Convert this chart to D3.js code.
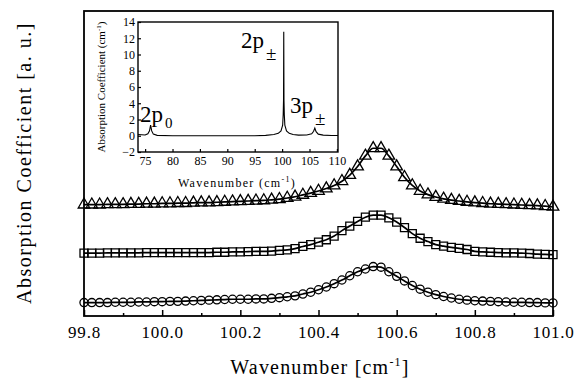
<!DOCTYPE html>
<html>
<head>
<meta charset="utf-8">
<script src="https://cdn.jsdelivr.net/npm/d3@7"></script>
<style>
  body { margin: 0; background: #fff; }
  svg { display: block; font-family: "Liberation Serif", "Times New Roman", serif; }
</style>
</head>
<body>
<svg id="chart" width="576" height="380"></svg>
<script>
// wavenumber grid of the measured points (cm^-1)
const wavenumbers = [
  99.80, 99.82, 99.84, 99.86, 99.88, 99.90, 99.92, 99.94, 99.96, 99.98,
  100.00, 100.02, 100.04, 100.06, 100.08, 100.10, 100.12, 100.14, 100.16, 100.18,
  100.20, 100.22, 100.24, 100.26, 100.28, 100.30, 100.32, 100.34, 100.36, 100.38,
  100.40, 100.42, 100.44, 100.46, 100.48, 100.50, 100.52, 100.54, 100.56, 100.58,
  100.60, 100.62, 100.64, 100.66, 100.68, 100.70, 100.72, 100.74, 100.76, 100.78,
  100.80, 100.82, 100.84, 100.86, 100.88, 100.90, 100.92, 100.94, 100.96, 100.98,
  101.00
];

// offset spectra, arbitrary units
const triangleValues = [
  3.65, 3.65, 3.65, 3.66, 3.66, 3.66, 3.67, 3.67, 3.68, 3.68,
  3.69, 3.69, 3.70, 3.70, 3.71, 3.72, 3.72, 3.73, 3.74, 3.75,
  3.76, 3.77, 3.78, 3.79, 3.81, 3.83, 3.87, 3.91, 3.97, 4.03,
  4.10, 4.18, 4.28, 4.42, 4.62, 4.90, 5.25, 5.50, 5.50, 5.25,
  4.90, 4.55, 4.28, 4.10, 3.98, 3.90, 3.84, 3.80, 3.77, 3.74,
  3.72, 3.70, 3.68, 3.67, 3.66, 3.65, 3.64, 3.63, 3.62, 3.60,
  3.58
];
const squareValues = [
  2.06, 2.06, 2.06, 2.07, 2.07, 2.07, 2.07, 2.07, 2.08, 2.08,
  2.08, 2.08, 2.08, 2.08, 2.08, 2.08, 2.08, 2.09, 2.09, 2.10,
  2.10, 2.11, 2.12, 2.12, 2.13, 2.15, 2.17, 2.21, 2.28, 2.34,
  2.42, 2.50, 2.62, 2.80, 2.95, 3.10, 3.24, 3.31, 3.31, 3.22,
  3.08, 2.90, 2.70, 2.55, 2.44, 2.34, 2.29, 2.25, 2.22, 2.18,
  2.12, 2.10, 2.09, 2.08, 2.07, 2.07, 2.06, 2.05, 2.03, 2.02,
  2.01
];
const circleValues = [
  0.44, 0.44, 0.44, 0.44, 0.45, 0.45, 0.45, 0.46, 0.46, 0.47,
  0.47, 0.48, 0.48, 0.49, 0.50, 0.51, 0.52, 0.53, 0.54, 0.55,
  0.55, 0.55, 0.56, 0.56, 0.58, 0.60, 0.63, 0.66, 0.72, 0.78,
  0.86, 0.95, 1.06, 1.18, 1.32, 1.45, 1.54, 1.62, 1.60, 1.45,
  1.30, 1.15, 1.00, 0.88, 0.78, 0.70, 0.64, 0.59, 0.55, 0.52,
  0.50, 0.49, 0.48, 0.47, 0.46, 0.45, 0.45, 0.44, 0.44, 0.43,
  0.43
];

// inset: full survey spectrum
const insetWavenumbers = [
  73.7, 75.0, 75.5, 75.8, 76.0, 76.2, 76.5, 77.2, 80.0, 85.0,
  90.0, 95.0, 97.0, 98.5, 99.3, 99.8, 100.1, 100.2, 100.26, 100.3,
  100.34, 100.4, 100.5, 100.8, 101.3, 102.0, 103.0, 104.5, 105.4, 105.75,
  105.97, 106.2, 106.6, 107.5, 109.0, 110.2
];
const insetAbsorption = [
  0.15, 0.1, 0.25, 0.6, 1.3, 0.6, 0.2, 0.05, 0.0, 0.0,
  0.0, 0.0, 0.05, 0.15, 0.3, 0.6, 1.3, 2.6, 4.4, 12.8,
  4.4, 2.6, 1.3, 0.6, 0.3, 0.15, 0.08, 0.1, 0.25, 0.55,
  0.95, 0.5, 0.2, 0.08, 0.04, 0.03
];

const xTicksMain = [99.8, 100.0, 100.2, 100.4, 100.6, 100.8, 101.0];
const xMinorMain = [99.9, 100.1, 100.3, 100.5, 100.7, 100.9];
const insetXTicks = [75, 80, 85, 90, 95, 100, 105, 110];
const insetYTicks = [-2, 0, 2, 4, 6, 8, 10, 12, 14];

const svg = d3.select("#chart");

// ---- main panel ----
const main = { left: 84, right: 553, top: 11, bottom: 316 };
const x = d3.scaleLinear().domain([99.8, 101.0]).range([main.left, main.right]);
const y = d3.scaleLinear().domain([0, 10]).range([main.bottom, main.top]);

const series = [
  { values: triangleValues, shape: "triangle" },
  { values: squareValues, shape: "square" },
  { values: circleValues, shape: "circle" }
];

const fitLine = d3.line()
  .x(d => x(d[0]))
  .y(d => y(d[1]))
  .curve(d3.curveMonotoneX);

const plot = svg.append("g");

series.forEach(s => {
  const pts = wavenumbers.map((w, i) => [w, s.values[i]]);
  plot.append("path")
    .datum(pts)
    .attr("d", fitLine)
    .attr("fill", "none")
    .attr("stroke", "#000")
    .attr("stroke-width", 1.7);

  const sym = s.shape === "triangle"
    ? d3.symbol(d3.symbolTriangle, 58)
    : s.shape === "square"
      ? d3.symbol(d3.symbolSquare, 64)
      : d3.symbol(d3.symbolCircle, 52);

  plot.selectAll(null)
    .data(pts)
    .join("path")
    .attr("transform", d => `translate(${x(d[0])},${y(d[1])})`)
    .attr("d", sym)
    .attr("fill", "none")
    .attr("stroke", "#000")
    .attr("stroke-width", 1.3);
});

// frame
svg.append("rect")
  .attr("x", main.left)
  .attr("y", main.top)
  .attr("width", main.right - main.left)
  .attr("height", main.bottom - main.top)
  .attr("fill", "none")
  .attr("stroke", "#000")
  .attr("stroke-width", 1.8);

// bottom axis, ticks pointing inward
const xAxis = svg.append("g")
  .attr("transform", `translate(0,${main.bottom})`)
  .call(d3.axisBottom(x).tickValues(xTicksMain).tickFormat(d3.format(".1f"))
    .tickSize(-6).tickPadding(10));
svg.append("g")
  .attr("transform", `translate(0,${main.bottom})`)
  .call(d3.axisBottom(x).tickValues(xMinorMain).tickFormat("").tickSize(-3));

svg.selectAll(".domain").remove();
svg.selectAll(".tick line").attr("stroke", "#000").attr("stroke-width", 1.5);
xAxis.selectAll("text")
  .attr("fill", "#000")
  .style("font-size", "17px")
  .style("letter-spacing", "0.8px")
  .style("font-family", "Liberation Serif");

svg.append("text")
  .attr("x", 320)
  .attr("y", 374)
  .attr("text-anchor", "middle")
  .style("font-size", "20px")
  .style("letter-spacing", "1.2px")
  .text("Wavenumber [cm")
  .append("tspan").attr("dy", -8).style("font-size", "12px").text("-1")
  .select(function() { return this.parentNode; })
  .append("tspan").attr("dy", 8).text("]");

svg.append("text")
  .attr("transform", "translate(31,163) rotate(-90)")
  .attr("text-anchor", "middle")
  .style("font-size", "20px")
  .style("letter-spacing", "1.5px")
  .text("Absorption Coefficient [a. u.]");

// ---- inset ----
const ins = { left: 138, right: 338, top: 22, bottom: 152 };
const xi = d3.scaleLinear().domain([73.7, 110.2]).range([ins.left, ins.right]);
const yi = d3.scaleLinear().domain([-2, 14]).range([ins.bottom, ins.top]);

const inset = svg.append("g");
inset.append("rect")
  .attr("x", ins.left)
  .attr("y", ins.top)
  .attr("width", ins.right - ins.left)
  .attr("height", ins.bottom - ins.top)
  .attr("fill", "#fff")
  .attr("stroke", "#000")
  .attr("stroke-width", 1.4);

inset.append("path")
  .datum(insetWavenumbers.map((w, i) => [w, insetAbsorption[i]]))
  .attr("d", d3.line().x(d => xi(d[0])).y(d => yi(d[1])))
  .attr("fill", "none")
  .attr("stroke", "#000")
  .attr("stroke-width", 1.1);

inset.append("g")
  .attr("transform", `translate(0,${ins.bottom})`)
  .call(d3.axisBottom(xi).tickValues(insetXTicks).tickSize(-3).tickPadding(4));
inset.append("g")
  .attr("transform", `translate(${ins.left},0)`)
  .call(d3.axisLeft(yi).tickValues(insetYTicks).tickSize(-3).tickPadding(3));
inset.selectAll(".domain").remove();
inset.selectAll(".tick line").attr("stroke", "#000").attr("stroke-width", 1.2);
inset.selectAll(".tick text")
  .attr("fill", "#000")
  .style("font-family", "Liberation Serif")
  .style("font-size", "12px");

inset.append("text")
  .attr("x", 237)
  .attr("y", 187)
  .attr("text-anchor", "middle")
  .style("font-size", "12px")
  .style("letter-spacing", "1.3px")
  .text("Wavenumber (cm")
  .append("tspan").attr("dy", -5).style("font-size", "8px").text("-1")
  .select(function() { return this.parentNode; })
  .append("tspan").attr("dy", 5).text(")");

inset.append("text")
  .attr("transform", "translate(105,87) rotate(-90)")
  .attr("text-anchor", "middle")
  .style("font-size", "11px")
  .text("Absorption Coefficient (cm")
  .append("tspan").attr("dy", -4).style("font-size", "7px").text("-1")
  .select(function() { return this.parentNode; })
  .append("tspan").attr("dy", 4).text(")");

// peak labels
const peakLabels = [
  { x: 140, y: 122, main: "2p", sub: "0", subDy: 6, subSize: 15 },
  { x: 241, y: 48, main: "2p", sub: "±", subDy: 12, subSize: 19 },
  { x: 290, y: 113, main: "3p", sub: "±", subDy: 12, subSize: 19 }
];
peakLabels.forEach(p => {
  const t = inset.append("text")
    .attr("x", p.x)
    .attr("y", p.y)
    .style("font-size", "23px")
    .text(p.main);
  t.append("tspan")
    .attr("dy", p.subDy)
    .attr("dx", 2)
    .style("font-size", p.subSize + "px")
    .text(p.sub);
});
</script>
</body>
</html>
